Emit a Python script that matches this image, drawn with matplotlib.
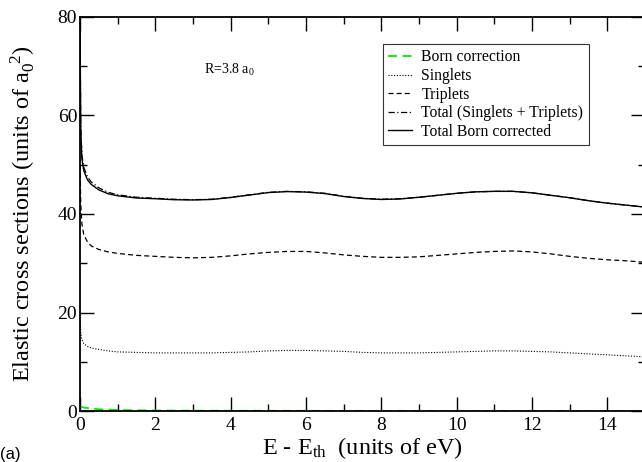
import matplotlib
matplotlib.use("Agg")
import matplotlib.pyplot as plt
from matplotlib.ticker import MultipleLocator

plt.rcParams['font.family'] = ['Liberation Serif', 'DejaVu Serif']
plt.rcParams['mathtext.fontset'] = 'custom'
plt.rcParams['mathtext.rm'] = 'Liberation Serif'
plt.rcParams['mathtext.it'] = 'Liberation Serif:italic'

# energy above threshold (eV)
energy = [0, 0.02, 0.05, 0.1, 0.2, 0.3, 0.5, 0.75, 1.0, 1.5, 2.0, 2.5, 3.0, 3.5,
          4.0, 4.5, 5.0, 5.5, 6.0, 6.5, 7.0, 7.5, 8.0, 8.5, 9.0, 9.5, 10.0, 10.5,
          11.0, 11.5, 12.0, 12.5, 13.0, 13.5, 14.0, 14.5, 15.0]

born = [0.9, 0.85, 0.8, 0.7, 0.6, 0.5, 0.35, 0.27, 0.2, 0.15, 0.1, 0.08, 0.07, 0.06,
        0.05, 0.05, 0.04, 0.04, 0.04, 0.03, 0.03, 0.03, 0.03, 0.03, 0.02, 0.02, 0.02, 0.02,
        0.02, 0.02, 0.02, 0.02, 0.02, 0.02, 0.02, 0.02, 0.02]

singlets = [20.0, 16.0, 14.5, 13.7, 13.1, 12.8, 12.5, 12.2, 12.0, 11.9, 11.8, 11.8, 11.8, 11.8,
            11.9, 12.0, 12.2, 12.3, 12.3, 12.2, 12.1, 11.9, 11.8, 11.8, 11.8, 11.9, 12.0, 12.1,
            12.2, 12.2, 12.1, 12.0, 11.8, 11.6, 11.4, 11.2, 11.0]

triplets = [50.0, 42.0, 38.0, 35.8, 34.3, 33.5, 32.8, 32.3, 32.0, 31.6, 31.4, 31.2, 31.1, 31.2,
            31.5, 31.9, 32.2, 32.4, 32.4, 32.1, 31.7, 31.4, 31.2, 31.2, 31.3, 31.6, 31.9, 32.2,
            32.4, 32.5, 32.3, 31.9, 31.4, 31.0, 30.7, 30.5, 30.2]

total = [80.0, 58.0, 52.0, 49.5, 47.5, 46.5, 45.3, 44.4, 43.9, 43.4, 43.2, 43.0, 42.9, 43.0,
         43.4, 43.9, 44.4, 44.6, 44.5, 44.2, 43.6, 43.2, 43.0, 43.1, 43.4, 43.8, 44.2, 44.5,
         44.6, 44.6, 44.3, 43.8, 43.3, 42.7, 42.2, 41.8, 41.4]

total_born = [79.1, 57.2, 51.2, 48.8, 46.9, 46.0, 44.9, 44.1, 43.7, 43.25, 43.1, 42.9, 42.85, 42.95,
              43.35, 43.85, 44.35, 44.55, 44.45, 44.15, 43.55, 43.15, 42.95, 43.05, 43.4, 43.8, 44.2, 44.5,
              44.6, 44.6, 44.3, 43.8, 43.3, 42.7, 42.2, 41.8, 41.4]

fig = plt.figure(figsize=(6.42, 4.62), dpi=100)
ax = fig.add_axes([80/642, 51/462, 565/642, 394/462])

ax.plot(energy, born, color='#00ee00', ls=(0, (5, 3)), lw=1.3, label='Born correction')
ax.plot(energy, singlets, color='black', ls=(0, (1, 1.5)), lw=0.8, label='Singlets')
ax.plot(energy, triplets, color='black', ls=(0, (4, 2.5)), lw=0.9, label='Triplets')
ax.plot(energy, total, color='black', ls=(0, (5, 2, 1, 2)), lw=0.9,
        label='Total (Singlets + Triplets)')
ax.plot(energy, total_born, color='black', ls='-', lw=1.0, label='Total Born corrected')

ax.set_xlim(0, 15)
ax.set_ylim(0, 80)
ax.xaxis.set_major_locator(MultipleLocator(2))
ax.xaxis.set_minor_locator(MultipleLocator(1))
ax.yaxis.set_major_locator(MultipleLocator(20))
ax.yaxis.set_minor_locator(MultipleLocator(10))
ax.tick_params(which='both', direction='in', top=True, right=True, labelsize=14, width=1.0)
ax.tick_params(axis='x', pad=4)
ax.tick_params(axis='y', pad=2)
ax.tick_params(which='major', length=10)
ax.tick_params(which='minor', length=5)
for s in ax.spines.values():
    s.set_linewidth(1.3)

ax.set_xlabel(r'E - E$_{\mathrm{th}}$  (units of eV)', fontsize=17.5, labelpad=1)
ax.set_ylabel(r'Elastic cross sections (units of a$_0^{\ \ 2}$)', fontsize=17.5)
ax.yaxis.set_label_coords(-0.074, 0.5)

ax.text(3.3, 68.5, r'R=3.8 a$_0$', fontsize=10)

leg = ax.legend(loc='upper left', bbox_to_anchor=(383/642, 1 - 44/462), bbox_transform=fig.transFigure,
                fontsize=11.3, frameon=True, fancybox=False, edgecolor='black', handlelength=1.5,
                handletextpad=0.6, borderpad=0.35, labelspacing=0.16, borderaxespad=0)
leg.get_frame().set_linewidth(0.8)

fig.text(0.0, 0.0, '(a)', fontsize=12, family='Liberation Sans', ha='left', va='bottom')

fig.savefig('out.png', dpi=100)
